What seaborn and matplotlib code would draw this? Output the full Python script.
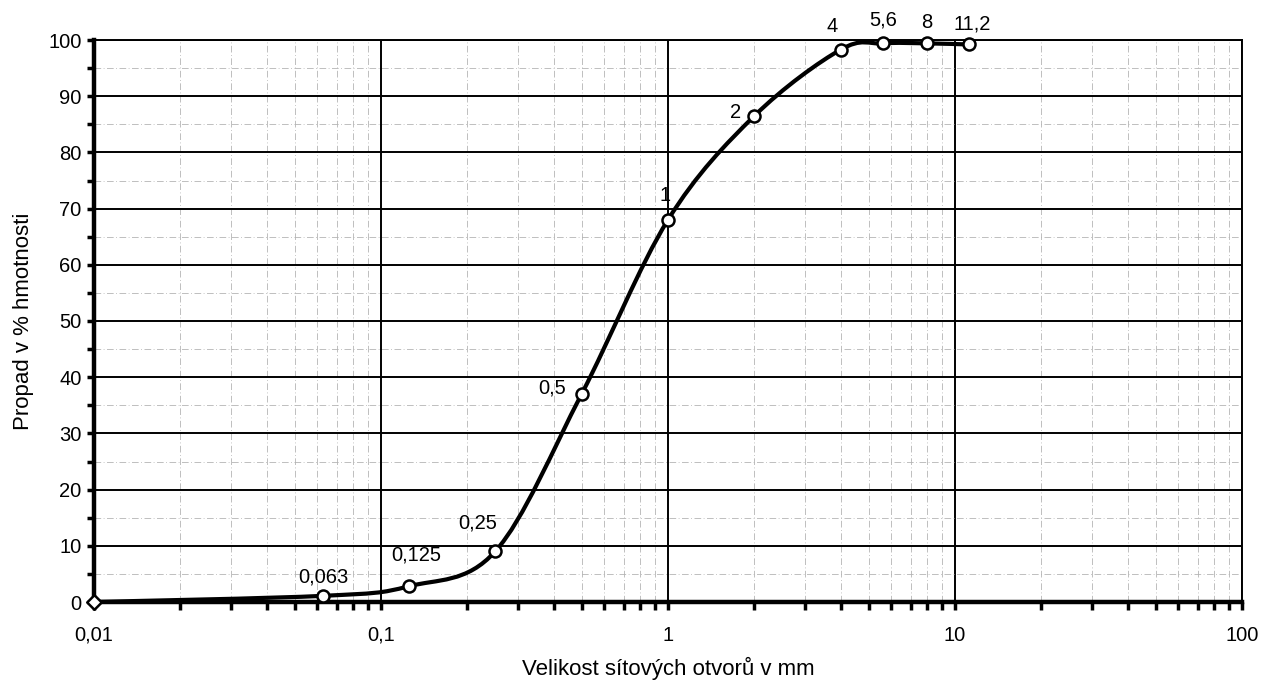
import matplotlib
matplotlib.use("Agg")
import matplotlib.pyplot as plt
import seaborn as sns
import numpy as np
from matplotlib.path import Path
from matplotlib.patches import PathPatch
from matplotlib.ticker import FixedLocator, MultipleLocator, LogLocator, FuncFormatter, NullFormatter

# velikost sita (mm) a propad (%)
sieve = [0.01, 0.063, 0.125, 0.25, 0.5, 1, 2, 4, 5.6, 8, 11.2]
passing = [0, 1.1, 2.8, 9.0, 37.0, 68.0, 86.5, 98.3, 99.4, 99.4, 99.2]
point_labels = ["", "0,063", "0,125", "0,25", "0,5", "1", "2", "4", "5,6", "8", "11,2"]
x_ticks = [0.01, 0.1, 1, 10, 100]
x_ticklabels = ["0,01", "0,1", "1", "10", "100"]
y_ticks = list(range(0, 101, 10))

sns.set_style("white")
plt.rcParams['font.family'] = ['Liberation Sans', 'DejaVu Sans']
plt.rcParams['text.color'] = 'black'
plt.rcParams['axes.labelcolor'] = 'black'
plt.rcParams['xtick.color'] = 'black'
plt.rcParams['ytick.color'] = 'black'

fig = plt.figure(figsize=(12.61, 6.80), dpi=100)
ax = fig.add_axes([94 / 1261, 1 - 602 / 680, (1242 - 94) / 1261, (602 - 40) / 680])
ax.set_xscale('log')
ax.set_xlim(0.01, 100)
ax.set_ylim(0, 100)


def smooth_path(xs, ys):
    # Catmull-Rom -> Bezier in log-x space (like Excel "smoothed line")
    u = np.log10(xs)
    v = np.asarray(ys, dtype=float)
    n = len(u)
    verts = [(xs[0], v[0])]
    codes = [Path.MOVETO]
    for i in range(n - 1):
        p0 = (u[max(i - 1, 0)], v[max(i - 1, 0)])
        p1 = (u[i], v[i])
        p2 = (u[i + 1], v[i + 1])
        p3 = (u[min(i + 2, n - 1)], v[min(i + 2, n - 1)])
        c1 = (p1[0] + (p2[0] - p0[0]) / 6, p1[1] + (p2[1] - p0[1]) / 6)
        c2 = (p2[0] - (p3[0] - p1[0]) / 6, p2[1] - (p3[1] - p1[1]) / 6)
        for c in (c1, c2, p2):
            verts.append((10 ** c[0], c[1]))
            codes.append(Path.CURVE4)
    return Path(verts, codes)


ax.add_patch(PathPatch(smooth_path(sieve, passing), fill=False, edgecolor='black',
                       lw=3.0, zorder=4, clip_on=False))

sns.scatterplot(x=sieve[1:], y=passing[1:], marker='o', s=75, color='white',
                edgecolor='black', linewidth=1.8, zorder=6, clip_on=False, ax=ax)
sns.scatterplot(x=sieve[:1], y=passing[:1], marker='D', s=55, color='white',
                edgecolor='black', linewidth=1.8, zorder=6, clip_on=False, ax=ax)

offsets = {
    "0,063": (0, 19), "0,125": (7, 31), "0,25": (-18, 28), "0,5": (-29, 6),
    "1": (-3, 24), "2": (-19, 3), "4": (-9, 23), "5,6": (0, 23), "8": (0, 21),
    "11,2": (3, 20),
}
for xv, yv, lab in zip(sieve, passing, point_labels):
    if not lab:
        continue
    ax.annotate(lab, (xv, yv), xytext=offsets[lab], textcoords='offset pixels',
                ha='center', va='center', fontsize=14.5, zorder=7)

# osy a mrizka
ax.xaxis.set_major_locator(FixedLocator(x_ticks))
ax.xaxis.set_major_formatter(FuncFormatter(lambda val, pos: x_ticklabels[x_ticks.index(val)] if val in x_ticks else ""))
ax.xaxis.set_minor_locator(LogLocator(base=10, subs=np.arange(2, 10)))
ax.xaxis.set_minor_formatter(NullFormatter())
ax.yaxis.set_major_locator(FixedLocator(y_ticks))
ax.yaxis.set_minor_locator(MultipleLocator(5))

ax.grid(which='major', color='black', lw=1.4)
ax.grid(which='minor', color='#b4b4b4', lw=0.6, ls=(0, (8, 3, 1, 3)))
ax.set_axisbelow(True)

for side in ['left', 'bottom']:
    ax.spines[side].set_linewidth(3.2)
    ax.spines[side].set_color('black')
for side in ['top', 'right']:
    ax.spines[side].set_linewidth(1.4)
    ax.spines[side].set_color('black')

ax.tick_params(axis='x', which='both', direction='out', length=6, width=2.5,
               bottom=True, pad=11, labelsize=14.5)
ax.tick_params(axis='y', which='both', direction='out', length=5, width=2.5,
               left=True, pad=4, labelsize=14.5)

ax.set_xlabel("Velikost sítových otvorů v mm", fontsize=16, labelpad=9)
ax.set_ylabel("Propad v % hmotnosti", fontsize=16, labelpad=10)

fig.savefig("out.png", dpi=100, facecolor='white')
